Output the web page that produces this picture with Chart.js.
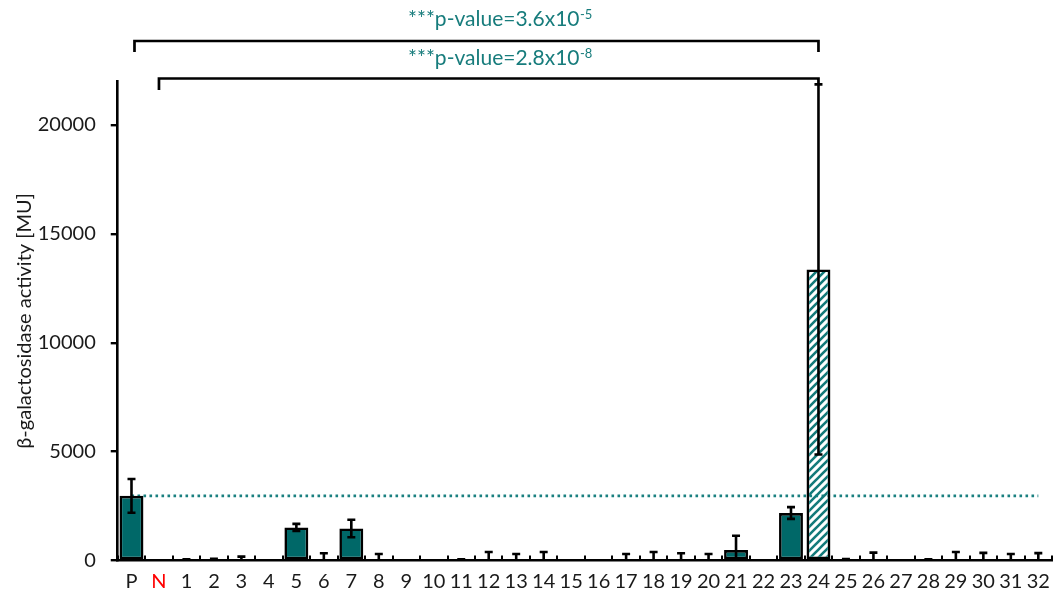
<!DOCTYPE html>
<html>
<head>
<meta charset="utf-8">
<script src="https://cdn.jsdelivr.net/npm/chart.js@4.4.1/dist/chart.umd.min.js"></script>
<style>
  html, body { margin: 0; padding: 0; background: #ffffff; }
  #wrap { width: 1059px; height: 593px; }
</style>
</head>
<body>
<div id="wrap"><canvas id="chart" width="1059" height="593"></canvas></div>
<script>
// Strains: positive control, negative control, clones 1–32
const categories = ['P', 'N', '1', '2', '3', '4', '5', '6', '7', '8', '9', '10',
  '11', '12', '13', '14', '15', '16', '17', '18', '19', '20', '21', '22',
  '23', '24', '25', '26', '27', '28', '29', '30', '31', '32'];

// Mean β-galactosidase activity [MU]
const activity = [2970, 0, 40, 50, 30, 0, 1520, 30, 1470, 20, 0, 0,
  40, 40, 30, 30, 0, 0, 30, 30, 30, 30, 480, 0,
  2180, 13370, 50, 30, 0, 40, 30, 30, 30, 30];

// Standard deviation [MU]
const deviation = [775, 0, 20, 30, 150, 0, 160, 300, 400, 280, 0, 0,
  20, 350, 270, 360, 0, 0, 270, 360, 300, 270, 660, 0,
  270, 8500, 20, 330, 0, 20, 360, 320, 270, 310];

// Positive-control level used as the reference line
const positiveLevel = [2970];
const yTicks = [0, 5000, 10000, 15000, 20000];
const yMax = [22000];

// Pairwise comparisons with their p-values
const comparisonFrom = ['P', 'N'];
const comparisonTo = ['24', '24'];
const pText = ['***p-value=3.6x10', '***p-value=2.8x10'];
const pExponent = ['-5', '-8'];

const hatchedStrain = '24';
const FONT = 'Lato, "Open Sans", sans-serif';
const TEAL = '#006868';

function hatchPattern() {
  const s = 8;
  const c = document.createElement('canvas');
  c.width = s; c.height = s;
  const g = c.getContext('2d');
  g.strokeStyle = '#137a7a';
  g.lineWidth = 2.6;
  g.beginPath();
  g.moveTo(-1, s + 1); g.lineTo(s + 1, -1);
  g.moveTo(-1, 1); g.lineTo(1, -1);
  g.moveTo(s - 1, s + 1); g.lineTo(s + 1, s - 1);
  g.stroke();
  return g.createPattern(c, 'repeat');
}

const hatch = hatchPattern();
const barFill = categories.map(c => c === hatchedStrain ? hatch : TEAL);

// Category boundary tick marks (pointing into the plot) and error bars (mean ± SD)
const errorBars = {
  id: 'errorBars',
  afterDatasetsDraw(chart) {
    const { ctx, chartArea } = chart;
    const x = chart.scales.x;
    const y = chart.scales.y;

    ctx.save();
    ctx.strokeStyle = '#000';
    ctx.lineWidth = 2;
    const n = categories.length;
    const step = x.getPixelForValue(1) - x.getPixelForValue(0);
    ctx.beginPath();
    for (let i = 0; i <= n; i++) {
      const bx = Math.round(x.getPixelForValue(0) - step / 2 + i * step);
      ctx.moveTo(bx, chartArea.bottom);
      ctx.lineTo(bx, chartArea.bottom - 5);
    }
    ctx.stroke();
    ctx.restore();

    const meta = chart.getDatasetMeta(1);
    ctx.save();
    ctx.beginPath();
    ctx.rect(chartArea.left, chartArea.top - 2, chartArea.right - chartArea.left, chartArea.bottom - chartArea.top + 2);
    ctx.clip();
    ctx.strokeStyle = '#000';
    ctx.lineWidth = 2.6;
    meta.data.forEach((bar, i) => {
      const sd = deviation[i];
      if (!sd) return;
      const bxc = bar.x;
      const hi = y.getPixelForValue(activity[i] + sd);
      const loVal = activity[i] - sd;
      const lo = y.getPixelForValue(Math.max(loVal, -1000));
      ctx.beginPath();
      ctx.moveTo(bxc, hi); ctx.lineTo(bxc, lo);
      ctx.moveTo(bxc - 4, hi); ctx.lineTo(bxc + 4, hi);
      if (loVal > 0) { ctx.moveTo(bxc - 4, lo); ctx.lineTo(bxc + 4, lo); }
      ctx.stroke();
    });
    ctx.restore();
  }
};

// Significance brackets with p-value labels
const significance = {
  id: 'significance',
  afterDraw(chart) {
    const { ctx } = chart;
    const x = chart.scales.x;
    const y = chart.scales.y;
    const levels = [41, 78.5];
    const legEnds = [52, 90];
    const baselines = [26, 65];
    ctx.save();
    ctx.strokeStyle = '#000';
    ctx.lineWidth = 2.7;
    ctx.lineJoin = 'miter';
    for (let k = 0; k < comparisonFrom.length; k++) {
      const a = categories.indexOf(comparisonFrom[k]);
      const b = categories.indexOf(comparisonTo[k]);
      const xa = x.getPixelForValue(a) + (k === 0 ? 3 : 0);
      const xb = x.getPixelForValue(b);
      const rightEnd = k === 0 ? legEnds[0] : y.getPixelForValue(activity[b] + deviation[b]);
      ctx.beginPath();
      ctx.moveTo(xa, legEnds[k]);
      ctx.lineTo(xa, levels[k]);
      ctx.lineTo(xb, levels[k]);
      ctx.lineTo(xb, rightEnd);
      ctx.stroke();

      ctx.fillStyle = '#177c7c';
      ctx.textBaseline = 'alphabetic';
      ctx.textAlign = 'left';
      ctx.font = '21px ' + FONT;
      const w1 = ctx.measureText(pText[k]).width;
      ctx.font = '13px ' + FONT;
      const w2 = ctx.measureText(pExponent[k]).width;
      const cx = 500;
      const sx = cx - (w1 + w2) / 2;
      ctx.font = '21px ' + FONT;
      ctx.fillText(pText[k], sx, baselines[k]);
      ctx.font = '13px ' + FONT;
      ctx.fillText(pExponent[k], sx + w1 + 0.5, baselines[k] - 7.5);
    }
    ctx.restore();
  }
};

new Chart(document.getElementById('chart'), {
  type: 'bar',
  data: {
    labels: categories,
    datasets: [
      {
        type: 'line',
        data: categories.map(() => positiveLevel[0]),
        borderColor: '#1a8080',
        borderWidth: 2.6,
        borderDash: [2.6, 3.4],
        pointRadius: 0,
        fill: false,
        order: 2
      },
      {
        type: 'bar',
        data: activity,
        backgroundColor: barFill,
        borderColor: '#000',
        borderWidth: activity.map(v => v > 0 ? 2.6 : 0),
        borderSkipped: false,
        barPercentage: 0.87,
        categoryPercentage: 1.0,
        order: 1
      }
    ]
  },
  options: {
    responsive: false,
    devicePixelRatio: 1,
    animation: false,
    layout: { padding: { left: 0, right: 6.5, top: 81.5, bottom: 0 } },
    plugins: { legend: { display: false }, tooltip: { enabled: false } },
    scales: {
      x: {
        grid: { display: false, drawTicks: false },
        border: { display: true, color: '#000', width: 2.6 },
        ticks: {
          font: { family: FONT, size: 20 },
          color: ctx => categories[ctx.index] === 'N' ? '#ff0000' : '#1a1a1a',
          padding: 9,
          maxRotation: 0,
          autoSkip: false
        },
        afterFit(scale) { scale.height = 32.5; }
      },
      y: {
        min: 0,
        max: yMax[0],
        grid: {
          display: true, drawOnChartArea: false, drawTicks: true,
          tickLength: 7, color: '#000', lineWidth: 2.4
        },
        border: { display: true, color: '#000', width: 2.6 },
        ticks: {
          font: { family: FONT, size: 20 },
          color: '#1a1a1a',
          padding: 15,
          callback: v => String(v)
        },
        afterBuildTicks(scale) { scale.ticks = yTicks.map(v => ({ value: v })); },
        title: {
          display: true,
          text: 'β-galactosidase activity [MU]',
          font: { family: FONT, size: 20 },
          color: '#1a1a1a',
          padding: { top: 13, bottom: 0 }
        },
        afterFit(scale) { scale.width = 117.75; }
      }
    }
  },
  plugins: [errorBars, significance]
});
</script>
</body>
</html>
